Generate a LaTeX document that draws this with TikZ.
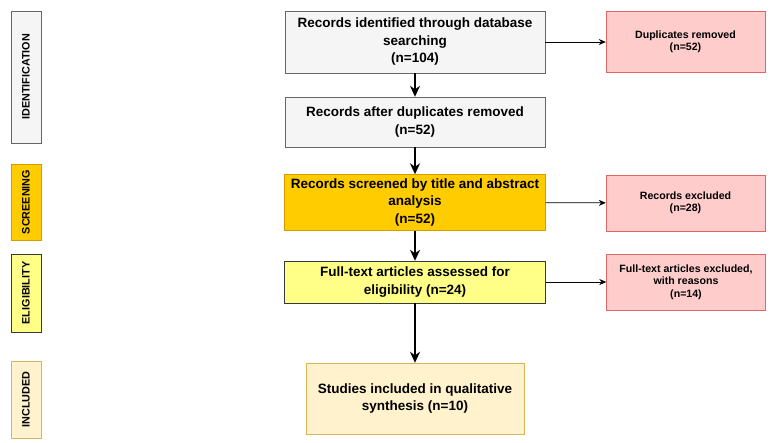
\documentclass[tikz,border=0pt]{standalone}
\usepackage{fontspec}
\setmainfont{Liberation Sans}
\usetikzlibrary{arrows.meta}

\definecolor{greyfill}{HTML}{F5F5F5}
\definecolor{greyline}{HTML}{666666}
\definecolor{scrfill}{HTML}{FFCC00}
\definecolor{scrline}{HTML}{D79B00}
\definecolor{eligfill}{HTML}{FFFF88}
\definecolor{eligline}{HTML}{36393D}
\definecolor{inclfill}{HTML}{FFF2CC}
\definecolor{inclline}{HTML}{D6B656}
\definecolor{pinkfill}{HTML}{FFCCCC}
\definecolor{pinkline}{HTML}{E06666}

\begin{document}
\begin{tikzpicture}[x=1pt, y=-1pt,
		box/.style={draw, align=center, inner sep=2pt, font=\fontsize{13.5}{17.5}\selectfont\bfseries},
		side/.style={draw=pinkline, fill=pinkfill, align=center, minimum width=159pt, minimum height=57pt, font=\fontsize{10.6}{12.5}\selectfont\bfseries},
		band/.style={draw, rotate=90, minimum height=30pt, font=\fontsize{10.8}{12}\selectfont\bfseries},
		flow/.style={line width=2pt, -{Stealth[length=11pt, width=10pt]}},
		aside/.style={line width=0.7pt, -{Stealth[length=7pt, width=6pt]}}]
	\useasboundingbox (0,0) rectangle (774,442);

		% phases on the left
		\node[band, draw=greyline, fill=greyfill, minimum width=132pt] (phId) at (26, 77) {IDENTIFICATION};
		\node[band, draw=scrline, fill=scrfill, minimum width=76pt] (phScr) at (26, 202) {SCREENING};
		\node[band, draw=eligline, fill=eligfill, minimum width=78pt] (phElig) at (26, 293) {ELIGIBILITY};
		\node[band, draw=inclline, fill=inclfill, minimum width=77pt] (phIncl) at (26, 399.5) {INCLUDED};

		% main flow
		\node[box, draw=greyline, fill=greyfill, minimum width=260pt, minimum height=62pt] (ident) at (415, 42) {Records identified through database\\searching\\(n=104)};
		\node[box, draw=greyline, fill=greyfill, minimum width=260pt, minimum height=50pt] (dedup) at (415, 122) {Records after duplicates removed\\(n=52)};
		\node[box, draw=scrline, fill=scrfill, minimum width=261pt, minimum height=56pt] (screen) at (415, 202.5) {Records screened by title and abstract\\analysis\\(n=52)};
		\node[box, draw=eligline, fill=eligfill, minimum width=261pt, minimum height=42pt] (full) at (415, 282) {Full-text articles assessed for\\eligibility (n=24)};
		\node[box, draw=inclline, fill=inclfill, minimum width=218pt, minimum height=71pt] (incl) at (415, 398.5) {Studies included in qualitative\\synthesis (n=10)};

		% removed records
		\node[side, minimum height=61pt] (dup) at (685.5, 42) {Duplicates removed\\(n=52)};
		\node[side, minimum height=56pt] (excl) at (685.5, 203) {Records excluded\\(n=28)};
		\node[side, minimum height=56pt] (ftexcl) at (686, 282) {Full-text articles excluded,\\with reasons\\(n=14)};

		\draw[flow] (ident) -- (dedup);
		\draw[flow] (dedup) -- (screen);
		\draw[flow] (screen) -- (full);
		\draw[flow] (full) -- (incl);

		\draw[aside] (ident) -- (dup);
		\draw[aside] (screen) -- (excl);
		\draw[aside] (full) -- (ftexcl);

	\end{tikzpicture}
\end{document}
